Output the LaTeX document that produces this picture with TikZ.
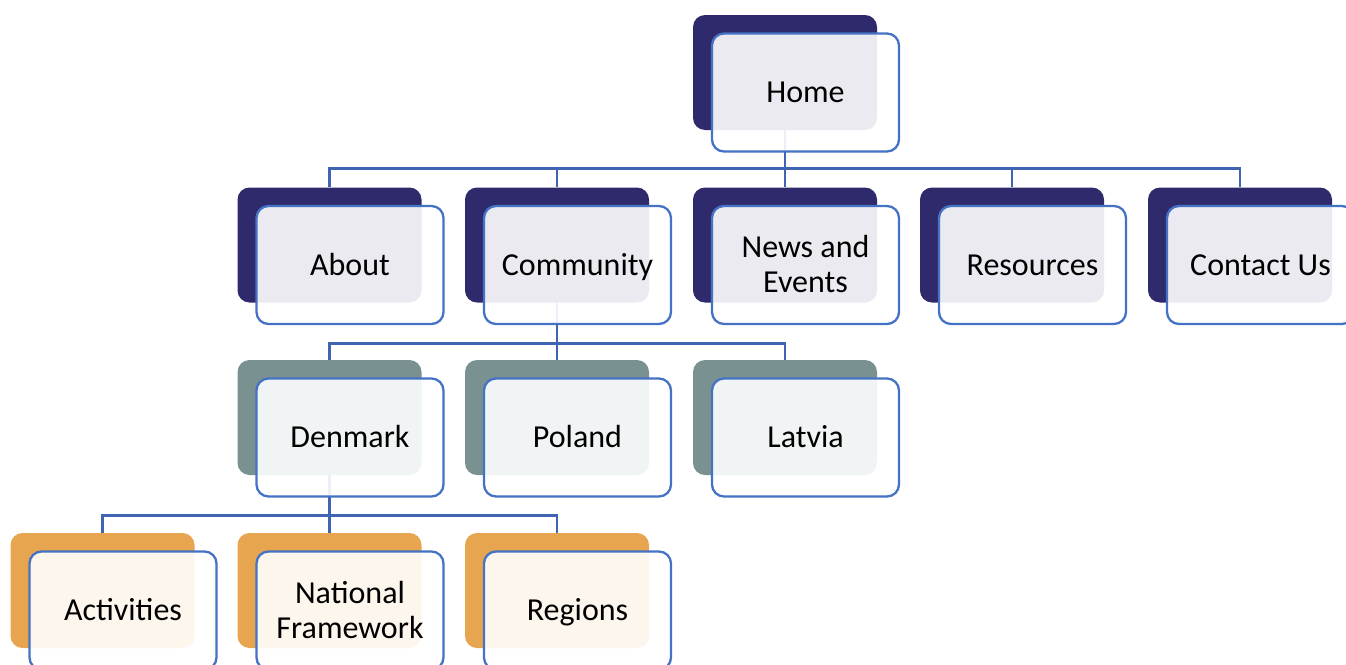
\documentclass[tikz,border=0pt]{standalone}
\usepackage{fontspec}
\setmainfont{Carlito}
\usetikzlibrary{positioning,calc}
\definecolor{navy}{RGB}{46,42,107}
\definecolor{slate}{RGB}{122,145,145}
\definecolor{amber}{RGB}{232,165,80}
\definecolor{edge}{RGB}{68,114,196}
\definecolor{wire}{RGB}{63,100,178}
\tikzset{
  backbox/.style={rectangle,rounded corners=12pt,minimum width=184pt,minimum height=115pt,inner sep=0pt,draw=none},
  frontbox/.style={rectangle,rounded corners=12pt,minimum width=187pt,minimum height=118pt,inner sep=0pt,draw=edge,line width=2.3pt,fill=white,fill opacity=0.9,text opacity=1,align=center,font=\fontsize{32}{35}\selectfont,text=black},
  conn/.style={draw=wire,line width=2.6pt}
}
\newcommand{\backat}[4]{\node[backbox,fill=#4] (#1-b) at (#2pt,#3pt) {};}
\newcommand{\frontat}[3]{\node[frontbox] (#1) at ($(#2-b.center)+(20.5pt,-20pt)$) {\raisebox{-3pt}[\height][\depth]{\begin{tabular}{@{}c@{}}#3\end{tabular}}};}
\begin{document}
\begin{tikzpicture}[x=1pt,y=1pt]
\useasboundingbox (0,0) rectangle (1346,-664);
\clip (0,0) rectangle (1346,-664);
% back boxes
\backat{home}{785}{-72.5}{navy}
\backat{about}{329.5}{-245}{navy}
\backat{comm}{557}{-245}{navy}
\backat{news}{785}{-245}{navy}
\backat{res}{1012}{-245}{navy}
\backat{contact}{1240}{-245}{navy}
\backat{den}{329.5}{-417.5}{slate}
\backat{pol}{557}{-417.5}{slate}
\backat{lat}{785}{-417.5}{slate}
\backat{act}{102.5}{-590.5}{amber}
\backat{nat}{329.5}{-590.5}{amber}
\backat{reg}{557}{-590.5}{amber}
% connectors
\foreach \c in {about,comm,news,res,contact}
  \draw[conn] (home-b.south) -- ++(0,-38) -| (\c-b.north);
\foreach \c in {den,pol,lat}
  \draw[conn] (comm-b.south) -- ++(0,-41) -| (\c-b.north);
\foreach \c in {act,nat,reg}
  \draw[conn] (den-b.south) -- ++(0,-40) -| (\c-b.north);
% front boxes
\frontat{home}{home}{Home}
\frontat{about}{about}{About}
\frontat{comm}{comm}{Community}
\frontat{news}{news}{News and\\Events}
\frontat{res}{res}{Resources}
\frontat{contact}{contact}{Contact Us}
\frontat{den}{den}{Denmark}
\frontat{pol}{pol}{Poland}
\frontat{lat}{lat}{Latvia}
\frontat{act}{act}{Activities}
\frontat{nat}{nat}{National\\Framework}
\frontat{reg}{reg}{Regions}
\end{tikzpicture}
\end{document}
